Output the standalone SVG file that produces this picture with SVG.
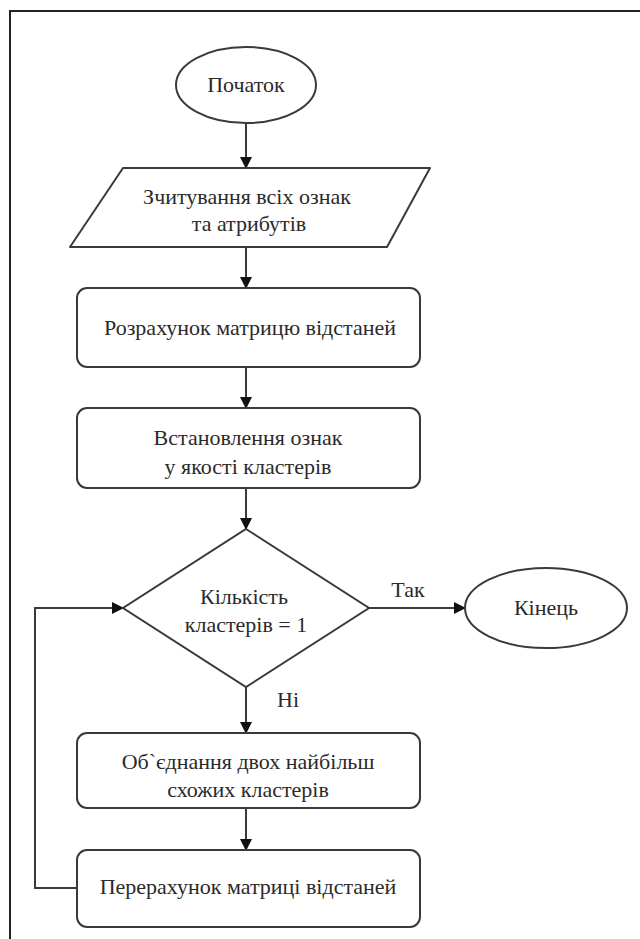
<svg xmlns="http://www.w3.org/2000/svg" width="640" height="939" viewBox="0 0 640 939">
<defs>
<marker id="arr" markerWidth="12" markerHeight="12" refX="11" refY="6" orient="auto" markerUnits="userSpaceOnUse">
<path d="M0,0 L12,6 L0,12 Z" fill="#111"/>
</marker>
</defs>
<rect width="640" height="939" fill="#fff"/>
<path d="M10,939 L10,11 L640,11" fill="none" stroke="#222" stroke-width="2"/>
<g id="connectors" fill="none" stroke="#3a3a3a" stroke-width="2">
<line x1="246" y1="123" x2="246" y2="168" marker-end="url(#arr)"/>
<line x1="246" y1="247" x2="246" y2="288" marker-end="url(#arr)"/>
<line x1="246" y1="367" x2="246" y2="408" marker-end="url(#arr)"/>
<line x1="246" y1="488" x2="246" y2="529" marker-end="url(#arr)"/>
<line x1="369" y1="608" x2="465" y2="608" marker-end="url(#arr)"/>
<line x1="246" y1="687" x2="246" y2="733" marker-end="url(#arr)"/>
<line x1="246" y1="808" x2="246" y2="850" marker-end="url(#arr)"/>
<path d="M77,888 L35,888 L35,608 L123,608" marker-end="url(#arr)"/>
</g>
<g id="labels" font-family="Liberation Serif" font-size="22" fill="#2a2a2a" text-anchor="middle">
<text x="408" y="597">Так</text>
<text x="288" y="707">Ні</text>
</g>
<g id="start">
<ellipse cx="246" cy="85" rx="70" ry="38" fill="#fff" stroke="#3a3a3a" stroke-width="2"/>
<text font-family="Liberation Serif" font-size="22" fill="#2a2a2a" text-anchor="middle" x="246" y="92">Початок</text>
</g>
<g id="input">
<path d="M123,168 L430,168 L387,247 L70,247 Z" stroke-linejoin="round" fill="#fff" stroke="#3a3a3a" stroke-width="2"/>
<text font-family="Liberation Serif" font-size="22" fill="#2a2a2a" text-anchor="middle" x="247" y="204">Зчитування всіх ознак</text>
<text font-family="Liberation Serif" font-size="22" fill="#2a2a2a" text-anchor="middle" x="249" y="231">та атрибутів</text>
</g>
<g id="distmatrix">
<rect x="77" y="288" width="343" height="79" rx="10" fill="#fff" stroke="#3a3a3a" stroke-width="2"/>
<text font-family="Liberation Serif" font-size="22" fill="#2a2a2a" text-anchor="middle" x="250" y="335">Розрахунок матрицю відстаней</text>
</g>
<g id="setclusters">
<rect x="77" y="408" width="343" height="80" rx="10" fill="#fff" stroke="#3a3a3a" stroke-width="2"/>
<text font-family="Liberation Serif" font-size="22" fill="#2a2a2a" text-anchor="middle" x="248" y="445">Встановлення ознак</text>
<text font-family="Liberation Serif" font-size="22" fill="#2a2a2a" text-anchor="middle" x="248" y="474">у якості кластерів</text>
</g>
<g id="decision">
<path d="M246,529 L369,608 L246,687 L123,608 Z" fill="#fff" stroke="#3a3a3a" stroke-width="2"/>
<text font-family="Liberation Serif" font-size="22" fill="#2a2a2a" text-anchor="middle" x="244" y="604">Кількість</text>
<text font-family="Liberation Serif" font-size="22" fill="#2a2a2a" text-anchor="middle" x="246" y="632">кластерів = 1</text>
</g>
<g id="end">
<ellipse cx="546" cy="608" rx="81" ry="40" fill="#fff" stroke="#3a3a3a" stroke-width="2"/>
<text font-family="Liberation Serif" font-size="22" fill="#2a2a2a" text-anchor="middle" x="546" y="615">Кінець</text>
</g>
<g id="merge">
<rect x="77" y="733" width="343" height="75" rx="10" fill="#fff" stroke="#3a3a3a" stroke-width="2"/>
<text font-family="Liberation Serif" font-size="22" fill="#2a2a2a" text-anchor="middle" x="248" y="769">Об`єднання двох найбільш</text>
<text font-family="Liberation Serif" font-size="22" fill="#2a2a2a" text-anchor="middle" x="248" y="797">схожих кластерів</text>
</g>
<g id="recalc">
<rect x="77" y="850" width="343" height="77" rx="10" fill="#fff" stroke="#3a3a3a" stroke-width="2"/>
<text font-family="Liberation Serif" font-size="22" fill="#2a2a2a" text-anchor="middle" x="248" y="894">Перерахунок матриці відстаней</text>
</g>
</svg>
